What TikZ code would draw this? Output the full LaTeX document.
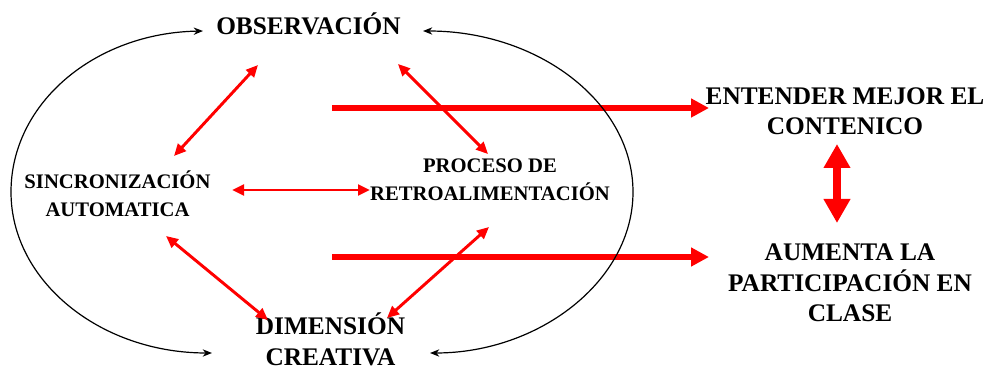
\documentclass[tikz,border=0pt]{standalone}
\usepackage{fontspec}
\setmainfont{Liberation Serif}
\usetikzlibrary{arrows.meta}
\begin{document}
\begin{tikzpicture}[x=0.75pt,y=-0.75pt,
 big/.style={font=\fontsize{19}{22.9}\selectfont\bfseries, align=center, inner sep=0pt, anchor=base},
 small/.style={font=\fontsize{15.5}{21}\selectfont\bfseries, align=center, inner sep=0pt, anchor=base},
 redarr/.style={draw=red, line width=2.2pt, {Triangle[length=9pt,width=8pt]}-{Triangle[length=9pt,width=8pt]}},
 thickarr/.style={draw=red, line width=3.8pt, -{Triangle[length=13.5pt,width=13.5pt]}},
 bigdouble/.style={draw=red, line width=6pt, {Triangle[length=18pt,width=19pt]}-{Triangle[length=18pt,width=19pt]}},
 cyc/.style={draw=black, line width=0.9pt, {Stealth[length=7pt,width=5.5pt]}-{Stealth[length=7pt,width=5.5pt]}}]
\useasboundingbox (0,0) rectangle (989,370);

% text nodes (base anchor = baseline of last line)
\node[big] (obs) at (308.5,35) {OBSERVACIÓN};
\node[small] (sinc) at (117.5,217) {SINCRONIZACIÓN\\AUTOMATICA};
\node[small] (proc) at (490,201) {PROCESO DE\\RETROALIMENTACIÓN};
\node[big] (dim) at (330.5,365) {DIMENSIÓN\\CREATIVA};
\node[big] (ent) at (845,135) {ENTENDER MEJOR EL\\CONTENICO};
\node[big] (aum) at (850,322) {AUMENTA LA\\PARTICIPACIÓN EN\\CLASE};

% connector end points
\coordinate (os) at (258,65);
\coordinate (so) at (174,156);
\coordinate (op) at (398,64);
\coordinate (po) at (488,154);
\coordinate (sp) at (232,190);
\coordinate (ps) at (370,190);
\coordinate (sd) at (166,236);
\coordinate (ds) at (268,320);
\coordinate (pd) at (489,227);
\coordinate (dp) at (387,318);
\coordinate (t1s) at (332,108);
\coordinate (t1e) at (709,108);
\coordinate (t2s) at (332,257);
\coordinate (t2e) at (709,257);
\coordinate (ea) at (837,144);
\coordinate (ae) at (837,223);
\coordinate (lt) at (203,31);
\coordinate (lb) at (212,353);
\coordinate (rt) at (423,31);
\coordinate (rb) at (430,353);

% red double arrows
\draw[redarr] (os) -- (so);
\draw[redarr] (op) -- (po);
\draw[redarr] (sp) -- (ps);
\draw[redarr] (sd) -- (ds);
\draw[redarr] (pd) -- (dp);

% thick arrows
\draw[thickarr] (t1s) -- (t1e);
\draw[thickarr] (t2s) -- (t2e);
\draw[bigdouble] (ea) -- (ae);

% black arcs
\draw[cyc] (lt) .. controls (95,33) and (11,103) .. (11,192)
               .. controls (11,281) and (100,353) .. (lb);
\draw[cyc] (rt) .. controls (539,31) and (633,103) .. (633,192)
               .. controls (633,281) and (539,353) .. (rb);
\end{tikzpicture}
\end{document}
